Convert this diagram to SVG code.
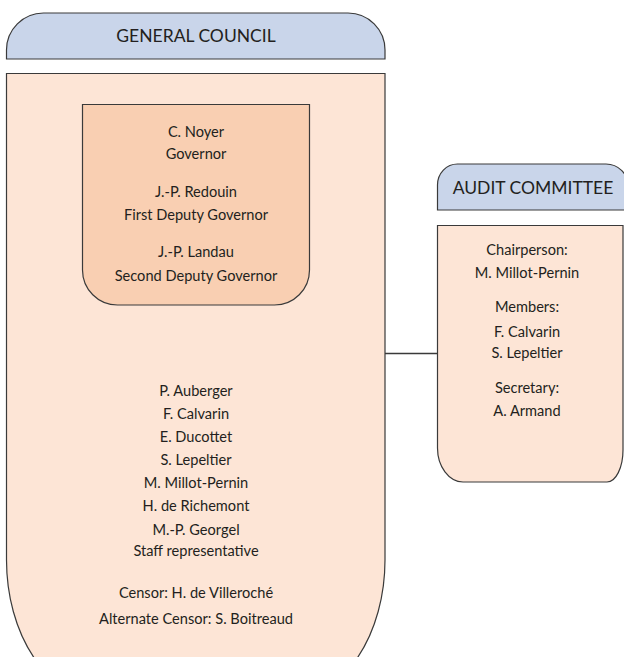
<svg xmlns="http://www.w3.org/2000/svg" width="624" height="657" viewBox="0 0 624 657">
<style>
.hdr{fill:#c9d5ea;stroke:#3a3a3a;stroke-width:1.2}
.body{fill:#fde5d6;stroke:#3a3a3a;stroke-width:1.2}
.inner{fill:#f9cfb2;stroke:#3a3a3a;stroke-width:1.2}
text{font-family:Lato,"Liberation Sans",sans-serif;fill:#231f20;text-anchor:middle}
.t{font-size:14.6px}
.h{font-size:17.5px}
.conn{stroke:#3a3a3a;stroke-width:1.4;fill:none}
</style>
<g id="general-council-header">
<path class="hdr" d="M6.5,59 V50 A37,37 0 0 1 43.5,13 H348 A37,37 0 0 1 385,50 V59 Z"/>
<text class="h" x="196" y="42">GENERAL COUNCIL</text>
</g>
<g id="general-council">
<path class="body" d="M6.5,73.5 H385 V560 A97,140 0 0 1 288,700 H103.5 A97,140 0 0 1 6.5,560 Z"/>
<g class="t">
<text x="196" y="396">P. Auberger</text>
<text x="196" y="419">F. Calvarin</text>
<text x="196" y="442">E. Ducottet</text>
<text x="196" y="465">S. Lepeltier</text>
<text x="196" y="488">M. Millot-Pernin</text>
<text x="196" y="511">H. de Richemont</text>
<text x="196" y="535">M.-P. Georgel</text>
<text x="196" y="556">Staff representative</text>
<text x="196" y="598">Censor: H. de Villeroché</text>
<text x="196" y="624">Alternate Censor: S. Boitreaud</text>
</g>
</g>
<g id="governors">
<path class="inner" d="M82.5,104.5 H309.5 V270 A35,35 0 0 1 274.5,305 H117.5 A35,35 0 0 1 82.5,270 Z"/>
<g class="t">
<text x="196" y="137">C. Noyer</text>
<text x="196" y="159">Governor</text>
<text x="196" y="197">J.-P. Redouin</text>
<text x="196" y="220">First Deputy Governor</text>
<text x="196" y="257">J.-P. Landau</text>
<text x="196" y="281">Second Deputy Governor</text>
</g>
</g>
<g id="audit-committee-header">
<path class="hdr" d="M437.5,210 V185 A20,21 0 0 1 457.5,164 H606 A22,22 0 0 1 628,186 V210 Z"/>
<text class="h" x="533" y="194">AUDIT COMMITTEE</text>
</g>
<g id="audit-committee">
<path class="body" d="M437.5,225.5 H623 V450 A16,32 0 0 1 607,482 H463 A26,34 0 0 1 437.5,448 Z"/>
<g class="t">
<text x="527" y="255">Chairperson:</text>
<text x="527" y="278">M. Millot-Pernin</text>
<text x="527" y="312">Members:</text>
<text x="527" y="337">F. Calvarin</text>
<text x="527" y="358">S. Lepeltier</text>
<text x="527" y="393">Secretary:</text>
<text x="527" y="416">A. Armand</text>
</g>
</g>
<g id="connectors">
<line class="conn" x1="385" y1="353.5" x2="437.5" y2="353.5"/>
</g>
</svg>
